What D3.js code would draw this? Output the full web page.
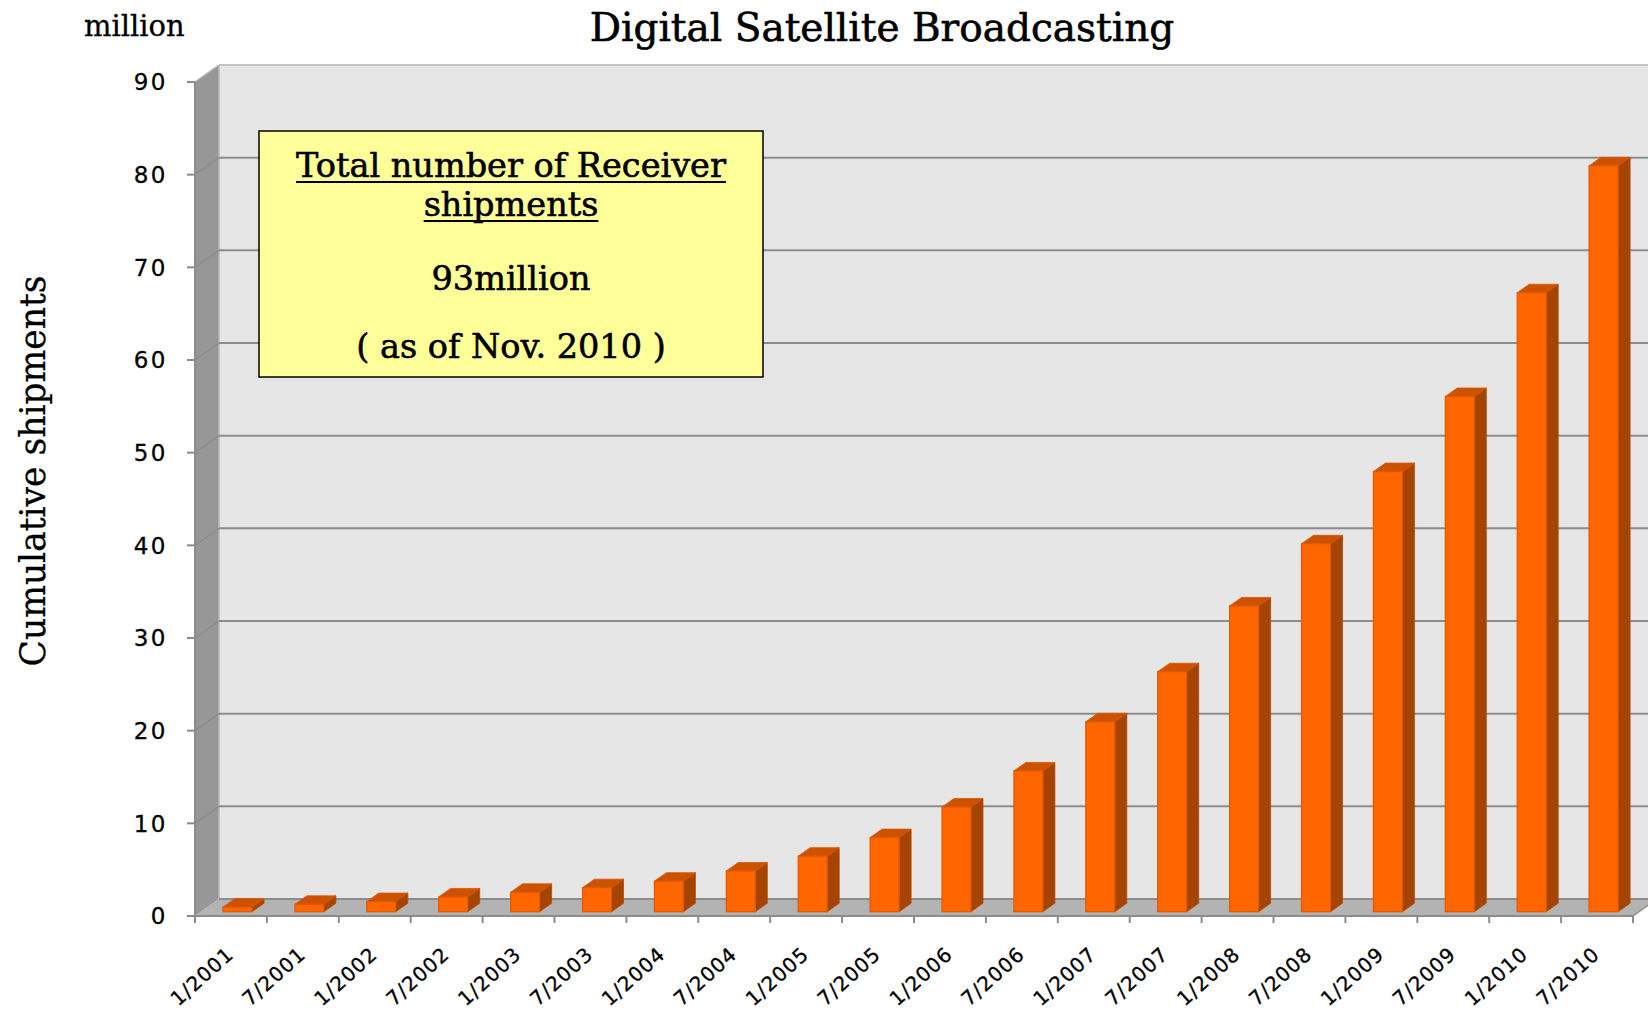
<!DOCTYPE html>
<html>
<head>
<meta charset="utf-8">
<script src="https://cdn.jsdelivr.net/npm/d3@7"></script>
<style>
  html, body { margin: 0; padding: 0; background: #fff; }
  svg { display: block; }
</style>
</head>
<body>
<svg id="chart" width="1648" height="1012"></svg>
<script>
// Cumulative receiver shipments, million units
const periods = ["1/2001","7/2001","1/2002","7/2002","1/2003","7/2003","1/2004","7/2004","1/2005","7/2005",
                 "1/2006","7/2006","1/2007","7/2007","1/2008","7/2008","1/2009","7/2009","1/2010","7/2010"];
const shipments = [0.5, 0.8, 1.1, 1.6, 2.1, 2.6, 3.3, 4.4, 6.0, 8.0,
                   11.3, 15.2, 20.5, 25.9, 33.0, 39.7, 47.5, 55.6, 66.8, 80.5];
const yTicks = [0, 10, 20, 30, 40, 50, 60, 70, 80, 90];
const titleText = "Digital Satellite Broadcasting";
const unitText = "million";
const yAxisTitle = "Cumulative shipments";
const noteLines = ["Total number of Receiver", "shipments", "93million", "( as of Nov. 2010 )"];

const svg = d3.select("#chart");
const W = 1648, H = 1012;

// front plane of the plot box and depth offset of the back wall
const x0 = 195, x1 = 1633, yBase = 916, yTop = 82;
const DX = 24, DY = 17;

const x = d3.scaleBand().domain(periods).range([x0, x1]).paddingInner(0).paddingOuter(0);
const y = d3.scaleLinear().domain([0, 90]).range([yBase, yTop]);

const gridColor = "#8c8c8c";
const serif = "DejaVu Serif, serif";
const sans = "DejaVu Sans, Verdana, sans-serif";

// back wall
svg.append("rect")
  .attr("x", x0 + DX).attr("y", y(90) - DY)
  .attr("width", W - (x0 + DX) + 40).attr("height", y(0) - y(90))
  .attr("fill", "#e6e6e6");
svg.append("line")
  .attr("x1", x0 + DX).attr("x2", W)
  .attr("y1", y(90) - DY).attr("y2", y(90) - DY)
  .attr("stroke", "#c4c4c4").attr("stroke-width", 2);

// left side wall
svg.append("path")
  .attr("d", `M${x0},${y(90)} L${x0 + DX},${y(90) - DY} L${x0 + DX},${y(0) - DY} L${x0},${y(0)} Z`)
  .attr("fill", "#979797");
svg.append("line")
  .attr("x1", x0 + DX).attr("x2", x0 + DX)
  .attr("y1", y(90) - DY).attr("y2", y(0) - DY)
  .attr("stroke", "#b8b8b8").attr("stroke-width", 1.5);

// floor
svg.append("path")
  .attr("d", `M${x0},${y(0)} L${x0 + DX},${y(0) - DY} L${x1 + DX},${y(0) - DY} L${x1},${y(0)} Z`)
  .attr("fill", "#b3b3b3");

// gridlines on back wall and across the side wall
const grid = svg.append("g");
yTicks.filter(t => t > 0 && t < 90).forEach(t => {
  grid.append("line")
    .attr("x1", x0 + DX).attr("x2", W)
    .attr("y1", y(t) - DY).attr("y2", y(t) - DY)
    .attr("stroke", gridColor).attr("stroke-width", 2);
  grid.append("line")
    .attr("x1", x0).attr("x2", x0 + DX)
    .attr("y1", y(t)).attr("y2", y(t) - DY)
    .attr("stroke", gridColor).attr("stroke-width", 1.5);
});
grid.append("line")
  .attr("x1", x0 + DX).attr("x2", W)
  .attr("y1", y(0) - DY).attr("y2", y(0) - DY)
  .attr("stroke", gridColor).attr("stroke-width", 2);
grid.append("line")
  .attr("x1", x0).attr("x2", x0 + DX)
  .attr("y1", y(90)).attr("y2", y(90) - DY)
  .attr("stroke", "#b0b0b0").attr("stroke-width", 1.5);
grid.append("line")
  .attr("x1", x1).attr("x2", x1 + DX)
  .attr("y1", y(0)).attr("y2", y(0) - DY)
  .attr("stroke", gridColor).attr("stroke-width", 1.5);

// 3D bars
const bw = 29, bOff = 28, zx = 12, zy = 8.5, zFront = 4.25;
const bars = svg.append("g");
periods.forEach((p, i) => {
  const v = shipments[i];
  const bx = x(p) + bOff;
  const by0 = y(0) - zFront;
  const by1 = y(v) - zFront;
  // side face
  bars.append("path")
    .attr("d", `M${bx + bw},${by1} L${bx + bw + zx},${by1 - zy} L${bx + bw + zx},${by0 - zy} L${bx + bw},${by0} Z`)
    .attr("fill", "#a54300").attr("stroke", "#b84a00").attr("stroke-width", 0.8);
  // top face
  bars.append("path")
    .attr("d", `M${bx},${by1} L${bx + zx},${by1 - zy} L${bx + bw + zx},${by1 - zy} L${bx + bw},${by1} Z`)
    .attr("fill", "#cc5200").attr("stroke", "#d65600").attr("stroke-width", 0.8);
  // front face
  bars.append("rect")
    .attr("x", bx).attr("y", by1)
    .attr("width", bw).attr("height", by0 - by1)
    .attr("fill", "#ff6600").attr("stroke", "#e05800").attr("stroke-width", 1.2);
});

// y axis
svg.append("line")
  .attr("x1", x0).attr("x2", x0).attr("y1", y(90)).attr("y2", y(0))
  .attr("stroke", gridColor).attr("stroke-width", 2);
const yAxis = svg.append("g");
yTicks.forEach(t => {
  yAxis.append("line")
    .attr("x1", x0 - 8).attr("x2", x0).attr("y1", y(t)).attr("y2", y(t))
    .attr("stroke", gridColor).attr("stroke-width", 2);
  yAxis.append("text")
    .attr("x", x0 - 27).attr("y", y(t))
    .attr("dy", "0.36em")
    .attr("text-anchor", "end")
    .attr("font-family", sans)
    .attr("font-size", 23).attr("letter-spacing", 2.5)
    .attr("fill", "#000").attr("stroke", "#000").attr("stroke-width", 0.3)
    .text(t);
});

// x axis
svg.append("line")
  .attr("x1", x0).attr("x2", x1).attr("y1", y(0)).attr("y2", y(0))
  .attr("stroke", gridColor).attr("stroke-width", 2);
const xAxis = svg.append("g");
periods.concat([null]).forEach(p => {
  const tx = p === null ? x1 : x(p);
  xAxis.append("line")
    .attr("x1", tx).attr("x2", tx).attr("y1", y(0)).attr("y2", y(0) + 7)
    .attr("stroke", gridColor).attr("stroke-width", 2);
});
periods.forEach(p => {
  const cx = x(p) + x.bandwidth() / 2 + 4;
  const cy = y(0) + 40;
  xAxis.append("text")
    .attr("transform", `translate(${cx},${cy}) rotate(-42)`)
    .attr("text-anchor", "end")
    .attr("font-family", sans)
    .attr("font-size", 20).attr("letter-spacing", 1)
    .attr("fill", "#000").attr("stroke", "#000").attr("stroke-width", 0.3)
    .text(p);
});

// titles
svg.append("text")
  .attr("x", 882).attr("y", 41)
  .attr("text-anchor", "middle")
  .attr("font-family", serif)
  .attr("font-size", 39)
  .attr("fill", "#000").attr("stroke", "#000").attr("stroke-width", 0.6)
  .text(titleText);

svg.append("text")
  .attr("x", 84).attr("y", 36)
  .attr("font-family", serif)
  .attr("font-size", 29)
  .attr("fill", "#000").attr("stroke", "#000").attr("stroke-width", 0.3)
  .text(unitText);

svg.append("text")
  .attr("transform", "translate(45,471) rotate(-90)")
  .attr("text-anchor", "middle")
  .attr("font-family", serif)
  .attr("font-size", 34.5)
  .attr("fill", "#000").attr("stroke", "#000").attr("stroke-width", 0.3)
  .text(yAxisTitle);

// note box
const note = svg.append("g");
note.append("rect")
  .attr("x", 259).attr("y", 131).attr("width", 504).attr("height", 246)
  .attr("fill", "#ffff99").attr("stroke", "#000").attr("stroke-width", 1.5);
const noteY = [177, 216, 290, 358];
noteLines.forEach((line, i) => {
  const t = note.append("text")
    .attr("x", 511).attr("y", noteY[i])
    .attr("text-anchor", "middle")
    .attr("font-family", serif)
    .attr("font-size", 33.5)
    .attr("fill", "#000").attr("stroke", "#000").attr("stroke-width", 0.6)
    .text(line);
  if (i < 2) {
    const len = t.node().getComputedTextLength();
    note.append("line")
      .attr("x1", 511 - len / 2).attr("x2", 511 + len / 2)
      .attr("y1", noteY[i] + 5).attr("y2", noteY[i] + 5)
      .attr("stroke", "#000").attr("stroke-width", 1.8);
  }
});
</script>
</body>
</html>
